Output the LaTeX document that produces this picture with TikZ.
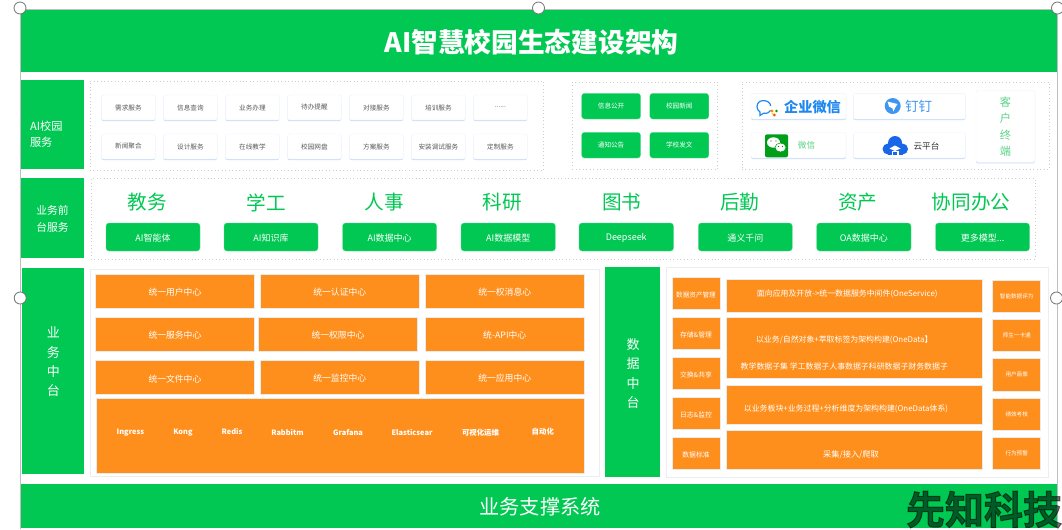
\documentclass[tikz,border=0pt]{standalone}
\usepackage{fontspec}
\setmainfont{Noto Sans CJK SC}
\newfontfamily\wmfont[FakeBold=2.5]{Noto Sans CJK SC Bold}
\usetikzlibrary{shadows}
\definecolor{brandgreen}{RGB}{0,200,83}
\definecolor{brandorange}{RGB}{255,143,28}
\definecolor{softgreen}{RGB}{90,210,135}
\definecolor{dotgray}{RGB}{205,205,205}
\definecolor{framegray}{RGB}{190,190,195}
\definecolor{cardshadow}{RGB}{200,220,250}
\definecolor{wecomblue}{RGB}{30,136,240}
\definecolor{dingblue}{RGB}{61,150,240}
\definecolor{cloudblue}{RGB}{26,102,232}
\newcommand{\fs}[1]{\pgfmathsetmacro\fsz{#1*0.75}\fontsize{\fsz pt}{\fsz pt}\selectfont}
\newcommand{\fl}[2]{\pgfmathsetmacro\fsz{#1*0.75}\pgfmathsetmacro\fsl{#2*0.75}\fontsize{\fsz pt}{\fsl pt}\selectfont}
\newcommand{\sixdots}{......}
\newcommand{\tx}[1]{\raisebox{-1.1pt}[\height][\depth]{#1}}
\newcommand{\ty}[1]{\raisebox{-0.7pt}[\height][\depth]{#1}}
\tikzset{
  x=0.75pt,y=-0.75pt,
  boxbase/.style={inner sep=0pt,outer sep=0pt,align=center},
  greenhead/.style={boxbase,fill=brandgreen,text=white},
  sidelabel/.style={boxbase,fill=brandgreen,text=white},
  greenbtn/.style={boxbase,fill=brandgreen,text=white,rounded corners=2.2pt,draw=brandgreen!60,line width=.2pt},
  orangebox/.style={boxbase,fill=brandorange,text=white,draw=black!8,line width=.4pt},
  card/.style={boxbase,fill=white,draw=cardshadow!35,line width=.3pt,rounded corners=1.5pt,text=black!65,drop shadow={shadow xshift=0pt,shadow yshift=-0.8pt,fill=cardshadow,opacity=1}},
  dotpanel/.style={boxbase,draw=dotgray,dotted,line width=.6pt},
  lightpanel/.style={boxbase,draw=black!7,line width=.5pt},
  plain/.style={inner sep=0pt,outer sep=0pt,align=center},
  handle/.style={circle,draw=black!55,fill=white,line width=.6pt,minimum size=9pt,inner sep=0pt},
}
% \bx{style}{name}{x1}{y1}{x2}{y2}{text}
\newcommand{\bx}[7]{\node[#1,minimum width={(#5-#3)*0.75pt},minimum height={(#6-#4)*0.75pt}] (#2) at ({(#3+#5)/2},{(#4+#6)/2}) {#7};}
\begin{document}
\begin{tikzpicture}
\useasboundingbox (0,0) rectangle (1062,529);
\clip (0,0) rectangle (1062,529);
\fill[white] (0,0) rectangle (1062,529);
% frame
\coordinate (ftl) at (20.5,9.5); \coordinate (ftr) at (1057.5,9.5);
\coordinate (fbl) at (20.5,529); \coordinate (fbr) at (1057.5,529);
\draw[framegray,line width=.8pt] (fbl) -- (ftl) -- (ftr) -- (fbr);
% header
\bx{greenhead}{titlebar}{21}{10}{1057}{71.5}{}
\node[plain,text=white,font=\fs{26.7}\bfseries] (title) at (531.5,42) {AI智慧校园生态建设架构};
\bx{greenhead}{footerbar}{21}{484}{1057}{527.5}{}
\node[plain,text=white,font=\fs{20.2}] (footer) at (540,507) {业务支撑系统};
% row 1
\bx{sidelabel}{sideA}{21}{80}{83.5}{169}{}
\node[plain,anchor=west,align=left,text=white,font=\fl{11.2}{16.5}] (sideAtxt) at (30,134) {AI校园\\服务};
\bx{dotpanel}{panelA}{90}{81}{543.6}{170}{}
\foreach \nm/\xa/\ya/\lab in {
 a1/101.6/95/需求服务,a2/163.6/95/信息查询,a3/225.6/95/业务办理,a4/287.6/95/待办提醒,a5/349.6/95/对接服务,a6/411.6/95/培训服务,a7/473.6/95/\sixdots,
 b1/101.6/134/新闻聚合,b2/163.6/134/设计服务,b3/225.6/134/在线教学,b4/287.6/134/校园网盘,b5/349.6/134/方案服务,b6/411.6/134/安装调试服务,b7/473.6/134/定制服务}{
  \pgfmathsetmacro\xb{\xa+53.6}\pgfmathsetmacro\yb{\ya+25}
  \bx{card,font=\fs{6.6}}{\nm}{\xa}{\ya}{\xb}{\yb}{\lab}
}
\bx{dotpanel}{panelB}{572.4}{82}{717.6}{169.5}{}
\bx{greenbtn,font=\fs{6.6}}{g1}{581.6}{93.3}{640.6}{119}{信息公开}
\bx{greenbtn,font=\fs{6.6}}{g2}{649.8}{93.3}{708.8}{119}{校园新闻}
\bx{greenbtn,font=\fs{6.6}}{g3}{581.6}{132.3}{640.6}{158}{通知公告}
\bx{greenbtn,font=\fs{6.6}}{g4}{649.8}{132.3}{708.8}{158}{学校发文}
\bx{dotpanel}{panelC}{742}{82}{1049}{169.5}{}
\bx{card}{c1}{751}{93.3}{846}{119}{}
\bx{card}{c2}{853.4}{93.3}{965.4}{119}{}
\bx{card}{c3}{751}{132.5}{846}{158}{}
\bx{card}{c4}{853.4}{132.5}{965.4}{158}{}
\bx{card,text=softgreen,font=\fl{11.2}{16.4}}{c5}{976}{90.7}{1035}{162.3}{客\\户\\终\\端}
\node[plain,text=wecomblue,font=\fs{14.2}\bfseries] (wecom) at (812.5,107) {企业微信};
\node[plain,text=dingblue,font=\fs{13.5}] (ding) at (918.5,106) {钉钉};
\node[plain,text=softgreen,font=\fs{8.6}] (wx) at (806.5,145.5) {微信};
\node[plain,text=black!80,font=\fs{8.6}] (cloud) at (926.5,146) {云平台};
% wecom icon
\draw[wecomblue,line width=.9pt,fill=white] (770.6,106) .. controls (770.6,99.5) and (757,98) .. (757,106.5) .. controls (757,109.5) and (758.5,111) .. (760,112) -- (760,115.5) -- (763.5,113.2) .. controls (767,113.8) and (769.5,112.5) .. (770.6,110.5);
\fill[orange!90!yellow] (772,111) circle (1.6);
\fill[green!60!black] (776.5,111) circle (1.4);
\fill[red!75!yellow] (774.3,115) circle (1.5);
\fill[yellow!90!orange] (772.5,113.8) circle (1.1);
% dingtalk icon
\fill[dingblue] (892.7,106) circle (8);
\fill[white] (887.5,101.5) -- (897.5,104) -- (895,108) -- (893.5,111.5) -- (892.5,108.5) -- (889,106.5) -- cycle;
% wechat icon
\fill[green!55!black!70!brandgreen,rounded corners=1.5pt] (765,134.3) rectangle (788,157.3);
\fill[white] (773.5,142.5) ellipse (6.5 and 5.2);
\fill[white] (780.5,147.5) ellipse (5.5 and 4.5);
\draw[green!55!black!70!brandgreen,line width=.4pt] (780.5,147.5) ellipse (5.5 and 4.5);
\foreach \px/\py in {771/141,776/141,778.5/146.5,782.5/146.5}{\fill[green!45!black] (\px,\py) circle (.7);}
% cloud icon
\fill[cloudblue] (888,149) circle (5.5);
\fill[cloudblue] (895,143) circle (7);
\fill[cloudblue] (902.5,149) circle (5.5);
\fill[cloudblue] (888,148) rectangle (902.5,154.5);
\fill[white] (889.5,148.5) -- (895,145.5) -- (900.5,148.5) -- (895,151) -- cycle;
\fill[white] (891.5,150.5) rectangle (898.5,154.5);
\fill[cloudblue] (893,151.5) rectangle (897,154.5);
% row 2
\bx{sidelabel}{sideB}{21}{178}{83.5}{258}{}
\node[plain,text=white,font=\fl{10.8}{16.5}] (sideBtxt) at (52.5,219) {业务前\\台服务};
\bx{dotpanel}{panelD}{91}{178.5}{1035}{259}{}
\foreach \nm/\cx/\lab in {h1/147/教务,h2/266/学工,h3/384/人事,h4/502.4/科研,h5/621.6/图书,h6/739.7/后勤,h7/857.8/资产,h8/971/协同办公}{
  \node[plain,text=brandgreen,font=\fs{19.6}] (\nm) at (\cx,202.5) {\lab};
}
\bx{greenbtn,font=\fs{9}}{m1}{106}{223}{200}{251}{\ty{AI智能体}}
\bx{greenbtn,font=\fs{9}}{m2}{224}{223}{318}{251}{\ty{AI知识库}}
\bx{greenbtn,font=\fs{9}}{m3}{342.6}{223}{436.6}{251}{\ty{AI数据中心}}
\bx{greenbtn,font=\fs{9}}{m4}{461}{223}{555.4}{251}{\ty{AI数据模型}}
\bx{greenbtn,font=\fs{9}}{m5}{579}{223}{673.5}{251}{\ty{Deepseek}}
\bx{greenbtn,font=\fs{9}}{m6}{698.3}{223}{792.3}{251}{\ty{通义千问}}
\bx{greenbtn,font=\fs{9}}{m7}{816.7}{223}{911}{251}{\ty{OA数据中心}}
\bx{greenbtn,font=\fs{9}}{m8}{935.5}{223}{1029.5}{251}{\ty{更多模型...}}
% row 3 left
\bx{sidelabel}{sideC}{22}{267.7}{84.4}{474.3}{}
\node[plain,text=white,font=\fl{13}{19.4}] (sideCtxt) at (53.3,362) {业\\务\\中\\台};
\bx{lightpanel}{panelE}{90.3}{269.7}{599}{476.3}{}
\bx{orangebox,font=\fs{8.8}}{u1}{95.3}{274.3}{254.5}{308}{\tx{统一用户中心}}
\bx{orangebox,font=\fs{8.8}}{u2}{260}{274.3}{419.5}{308}{\tx{统一认证中心}}
\bx{orangebox,font=\fs{8.8}}{u3}{425}{274.3}{584.4}{308}{\tx{统一权消息心}}
\bx{orangebox,font=\fs{8.8}}{u4}{95.3}{317.3}{254.5}{351}{\tx{统一服务中心}}
\bx{orangebox,font=\fs{8.8}}{u5}{258.4}{317.3}{417.5}{351}{\tx{统一权限中心}}
\bx{orangebox,font=\fs{8.8}}{u6}{425}{317.3}{584.4}{351}{\tx{统-API中心}}
\bx{orangebox,font=\fs{8.8}}{u7}{95.3}{360.3}{254.5}{394}{\tx{统一文件中心}}
\bx{orangebox,font=\fs{8.8}}{u8}{260}{360.3}{419.5}{394}{\tx{统一监控中心}}
\bx{orangebox,font=\fs{8.8}}{u9}{425}{360.3}{584.4}{394}{\tx{统一应用中心}}
\bx{orangebox}{bigbox}{96}{398.7}{584.4}{473}{}
\foreach \nm/\cx/\cy/\lab in {t1/130.4/432.7/Ingress,t2/183/433/Kong,t3/232/431/Redis,t4/287.5/432.5/Rabbitm,t5/348/432.5/Grafana,t6/412/432.5/Elasticsear,t7/480.5/432.5/可视化运维,t8/542.8/431.5/自动化}{
  \node[plain,text=white,font=\fs{7.4}\bfseries] (\nm) at (\cx,\cy) {\lab};
}
% row 3 right
\bx{sidelabel}{sideD}{605}{267.3}{659.7}{477.3}{}
\node[plain,text=white,font=\fl{13}{19.5}] (sideDtxt) at (633,373.5) {数\\据\\中\\台};
\bx{lightpanel}{panelF}{666.7}{267.7}{1048.3}{477.7}{}
\bx{orangebox,font=\fs{6.6}}{l1}{672}{277.3}{720}{309.3}{\tx{数据资产管理}}
\bx{orangebox,font=\fs{6.8}}{l2}{672}{317.3}{720}{349.3}{\tx{存储\&管理}}
\bx{orangebox,font=\fs{6.8}}{l3}{672}{357.3}{720}{389.7}{\tx{交换\&共享}}
\bx{orangebox,font=\fs{6.8}}{l4}{672}{397.3}{720}{429.7}{\tx{日志\&监控}}
\bx{orangebox,font=\fs{6.8}}{l5}{672}{437.3}{720}{469.7}{\tx{数据标准}}
\bx{orangebox}{k1}{726.7}{279.3}{982.3}{312.3}{}
\bx{orangebox}{k2}{726.7}{317.3}{982.3}{378.7}{}
\bx{orangebox}{k3}{726.7}{385.3}{982.3}{424.3}{}
\bx{orangebox}{k4}{726.7}{430.7}{982.3}{469.7}{}
\node[plain,text=white,font=\fs{7.9}] (k1t) at (847.3,294.3) {面向应用及开放->统一数据服务中间件(OneService)};
\node[plain,text=white,font=\fs{7.9}] (k2t) at (844.3,340) {以业务/自然对象+萃取标签为架构构建(OneData】};
\node[plain,text=white,font=\fs{7.9}] (k2u) at (844.3,366.3) {教学数据子集 学工数据子人事数据子科研数据子财务数据子};
\node[plain,text=white,font=\fs{7.9}] (k3t) at (846,409.3) {以业务板块+业务过程+分析维度为架构构建(OneData体系)};
\node[plain,text=white,font=\fs{8.2}] (k4t) at (851,455) {采集/接入/爬取};
\bx{orangebox,font=\fs{5.6}}{r1}{992.7}{280}{1040.7}{312}{智能数据评为}
\bx{orangebox,font=\fs{5.6}}{r2}{992.7}{319.3}{1040.7}{351.3}{师生一卡通}
\bx{orangebox,font=\fs{5.6}}{r3}{992.7}{358.7}{1040.7}{391}{用户画像}
\bx{orangebox,font=\fs{5.6}}{r4}{992.7}{398.3}{1040.7}{430.3}{绩效考核}
\bx{orangebox,font=\fs{5.6}}{r5}{992.7}{437.7}{1040.7}{469.7}{行为预警}
% selection handles
\node[handle] (h-a) at (20,8) {};
\node[handle] (h-b) at (538.5,8) {};
\node[handle] (h-c) at (1057.5,8) {};
\node[handle] (h-d) at (20.2,298) {};
\node[handle] (h-e) at (1056.5,298) {};
% watermark
\node[plain,anchor=west,text=black,text opacity=.54,font=\wmfont\fs{39}] (mark) at (906,509.5) {先知科技};
\end{tikzpicture}
\end{document}
